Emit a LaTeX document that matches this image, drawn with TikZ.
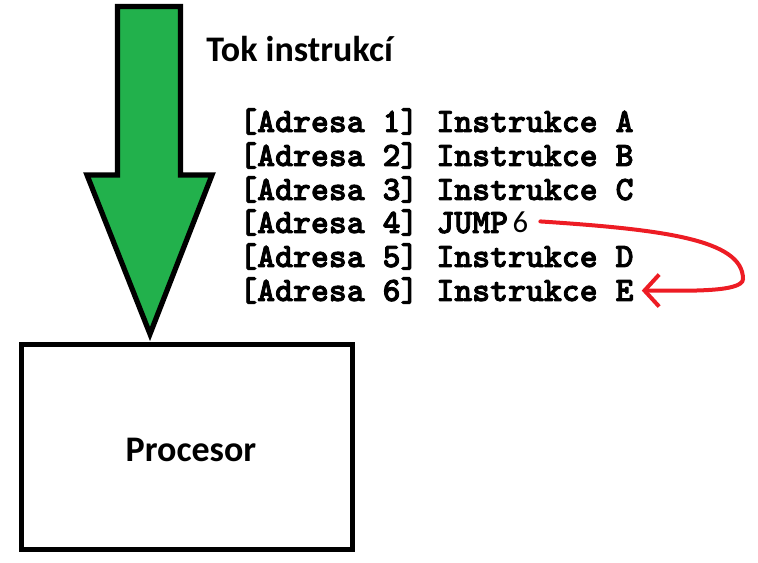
\documentclass[tikz,border=0pt]{standalone}
\usepackage{fontspec}
\setmainfont{Carlito}
\newfontfamily\codefont[FakeBold=2.5]{lmmonolt10-bold.otf}
\usetikzlibrary{arrows.meta}
\definecolor{paintgreen}{RGB}{34,177,76}
\definecolor{paintred}{RGB}{237,28,36}
\tikzset{
  px/.style={x=0.75pt,y=-0.75pt},
  bigarrow/.style={draw=black,fill=paintgreen,line width=3.9pt,line join=miter},
  cpu/.style={draw=black,line width=4.1pt,minimum width=248.5pt,minimum height=153.75pt,inner sep=0pt},
  sanslabel/.style={font=\fontsize{27}{32}\selectfont\bfseries,inner sep=0pt},
  codeline/.style={font=\fontsize{25.6}{30}\selectfont\codefont,inner sep=0pt,anchor=base west},
  jumparrow/.style={draw=paintred,line width=3pt,line cap=round,-{Straight Barb[length=11pt,width=24pt,line width=3pt]}}
}
\begin{document}
\begin{tikzpicture}[px]
\useasboundingbox (0,0) rectangle (758,563);
% green arrow
\draw[bigarrow] (117.5,6.5) -- (180.5,6.5) -- (180.5,175) -- (212,175) -- (150,334) -- (87,175) -- (117.5,175) -- cycle;
% processor box
\node[cpu] (cpu) at (187,447) {};
\node[sanslabel] (proc) at (191,450) {Procesor};
% title
\node[sanslabel,anchor=base west] (title) at (206,62) {Tok instrukcí};
% code lines
\node[codeline] (l1) at (239,132) {[Adresa 1] Instrukce A};
\node[codeline] (l2) at (239,166) {[Adresa 2] Instrukce B};
\node[codeline] (l3) at (239,200) {[Adresa 3] Instrukce C};
\node[codeline] (l4) at (239,233) {[Adresa 4] JUMP};
\node[font=\fontsize{23}{27}\selectfont,inner sep=0pt,anchor=base west] (six) at ([xshift=3pt]l4.base east) {6};
\node[codeline] (l5) at (239,267) {[Adresa 5] Instrukce D};
\node[codeline] (l6) at (239,301) {[Adresa 6] Instrukce E};
% jump arrow
\coordinate (js) at ([xshift=9pt,yshift=1pt]six.east);
\coordinate (je) at ([xshift=6pt]l6.east);
\draw[jumparrow] (js) .. controls +(120,8) and +(0,-40) .. (743,279) .. controls +(0,14) and +(40,0) .. (je);
\end{tikzpicture}
\end{document}
